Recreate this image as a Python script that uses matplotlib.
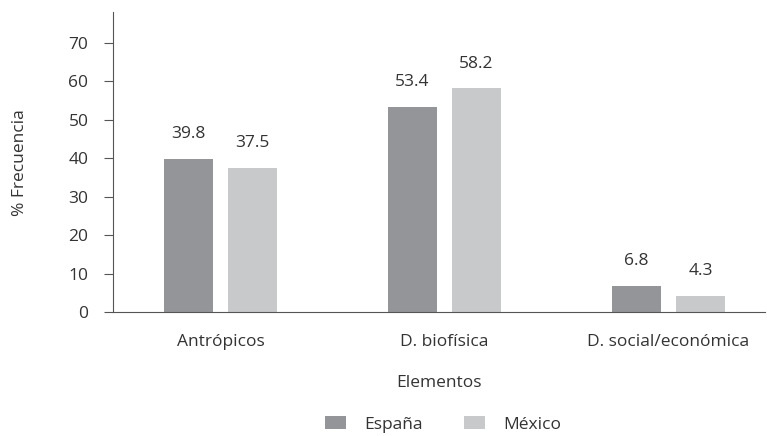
import matplotlib
matplotlib.use("Agg")
import matplotlib.pyplot as plt
import numpy as np

# datos
categorias = ["Antrópicos", "D. biofísica", "D. social/económica"]
espana = [39.8, 53.4, 6.8]
mexico = [37.5, 58.2, 4.3]
yticks = [0, 10, 20, 30, 40, 50, 60, 70]

plt.rcParams['font.family'] = ['Open Sans', 'DejaVu Sans']
txt = "#333333"
fs = 12.5

fig = plt.figure(figsize=(7.67, 4.36), dpi=100)
ax = fig.add_axes([0.147, 0.284, 0.850, 0.688])

x = np.arange(len(categorias))
w = 0.22
b1 = ax.bar(x - 0.143, espana, w, color="#939598", label="España")
b2 = ax.bar(x + 0.143, mexico, w, color="#c8c9cb", label="México")

# etiquetas de valores
for bars, vals in [(b1, espana), (b2, mexico)]:
    for r, v in zip(bars, vals):
        ax.annotate(f"{v:.1f}", (r.get_x() + r.get_width() / 2, v),
                    xytext=(0, 12), textcoords="offset points",
                    ha="center", va="bottom", fontsize=fs, color=txt)

ax.set_xlim(-0.482, 2.43)
ax.set_ylim(0, 78)
ax.set_yticks(yticks)
ax.set_xticks(x)
ax.set_xticklabels(categorias)
ax.tick_params(axis="x", length=0, pad=16, labelsize=fs, labelcolor=txt)
ax.tick_params(axis="y", length=6.5, width=0.8, color="#555555", pad=11,
               labelsize=fs, labelcolor=txt)

for s in ["top", "right"]:
    ax.spines[s].set_visible(False)
for s in ["left", "bottom"]:
    ax.spines[s].set_color("#555555")
    ax.spines[s].set_linewidth(0.8)

ax.set_ylabel("% Frecuencia", fontsize=fs, color=txt, labelpad=29)
ax.set_xlabel("Elementos", fontsize=fs, color=txt, labelpad=18)

fig.legend(handles=[b1, b2], loc="center", bbox_to_anchor=(0.578, 0.027),
           ncol=2, frameon=False, fontsize=fs, labelcolor=txt,
           handlelength=1.2, handleheight=0.8, columnspacing=2.4,
           handletextpad=1.05)

fig.savefig("out.png", dpi=100)
